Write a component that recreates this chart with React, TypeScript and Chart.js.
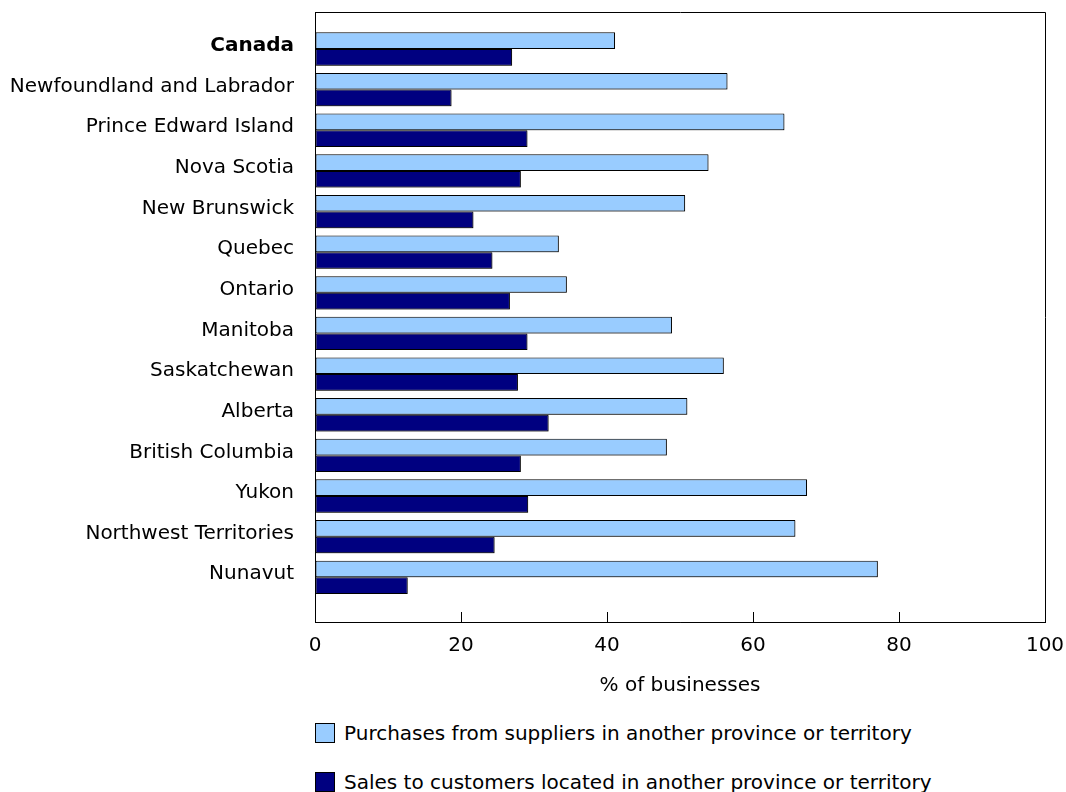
import React, { useEffect, useRef } from 'react';
import { Chart, registerables } from 'chart.js';

Chart.register(...registerables);

const categories = [
  'Canada',
  'Newfoundland and Labrador',
  'Prince Edward Island',
  'Nova Scotia',
  'New Brunswick',
  'Quebec',
  'Ontario',
  'Manitoba',
  'Saskatchewan',
  'Alberta',
  'British Columbia',
  'Yukon',
  'Northwest Territories',
  'Nunavut',
];

const purchases = [41.1, 56.5, 64.3, 53.9, 50.7, 33.4, 34.5, 48.9, 56.0, 51.0, 48.2, 67.4, 65.8, 77.1];
const sales = [27.0, 18.7, 29.1, 28.2, 21.7, 24.3, 26.7, 29.1, 27.8, 32.0, 28.2, 29.2, 24.6, 12.7];

const seriesLabels = [
  'Purchases from suppliers in another province or territory',
  'Sales to customers located in another province or territory',
];
const seriesColors = ['#99ccff', '#000080'];
const seriesValues = [purchases, sales];

const xMin = 0;
const xMax = 100;
const xStep = 20;
const xTitle = '% of businesses';

const FONT = '"DejaVu Sans", Verdana, sans-serif';

const framePlugin = {
  id: 'frame',
  beforeDatasetsDraw(chart: any) {
    const { ctx } = chart;
    ctx.save();
    ctx.shadowColor = 'rgba(0,0,0,0.35)';
    ctx.shadowOffsetX = 1;
    ctx.shadowOffsetY = 1;
    ctx.shadowBlur = 0;
  },
  afterDatasetsDraw(chart: any) {
    chart.ctx.restore();
  },
  afterDraw(chart: any) {
    const { ctx, chartArea } = chart;
    const l = Math.round(chartArea.left) + 0.5;
    const t = Math.round(chartArea.top) + 0.5;
    const r = Math.round(chartArea.right) + 0.5;
    const b = Math.round(chartArea.bottom) + 0.5;
    ctx.save();
    ctx.strokeStyle = '#000';
    ctx.lineWidth = 1;
    ctx.beginPath();
    ctx.moveTo(l, b);
    ctx.lineTo(l, t);
    ctx.lineTo(r, t);
    ctx.lineTo(r, b);
    ctx.closePath();
    ctx.stroke();
    ctx.restore();
  },
};

export default function App() {
  const canvasRef = useRef<HTMLCanvasElement | null>(null);

  useEffect(() => {
    if (!canvasRef.current) return;
    const chart = new Chart(canvasRef.current, {
      type: 'bar',
      data: {
        datasets: seriesValues.map((vals, si) => ({
          label: seriesLabels[si],
          data: vals.map((v, i) => ({ x: v, y: i })),
          backgroundColor: seriesColors[si],
          borderColor: '#000',
          borderWidth: 1,
          borderSkipped: false,
          barPercentage: 1,
          categoryPercentage: 0.82,
        })),
      },
      options: {
        indexAxis: 'y',
        responsive: false,
        animation: false,
        layout: { padding: { top: 12, right: 21, left: 0, bottom: 0 } },
        plugins: {
          legend: { display: false },
          tooltip: { enabled: false },
        },
        scales: {
          y: {
            type: 'linear',
            reverse: true,
            offset: false,
            bounds: 'data',
            min: -0.91,
            max: 14.1,
            afterBuildTicks: (s: any) => {
              s.ticks = categories.map((_, i) => ({ value: i }));
            },
            afterFit: (s: any) => {
              s.width = 315;
              s.paddingTop = 0;
              s.paddingBottom = 0;
            },
            grid: { display: false, drawTicks: false, offset: false },
            border: { display: true, color: '#000' },
            ticks: {
              padding: 21,
              labelOffset: -3,
              color: '#000',
              autoSkip: false,
              callback: (v: any) => categories[v] ?? '',
              font: (ctx: any) => ({
                family: FONT,
                size: 20,
                weight: ctx.index === 0 ? 'bold' : 'normal',
              }),
            },
          },
          x: {
            type: 'linear',
            min: xMin,
            max: xMax,
            afterFit: (s: any) => {
              s.height = 76;
              s.paddingLeft = 0;
              s.paddingRight = 0;
            },
            grid: {
              drawOnChartArea: false,
              drawTicks: true,
              tickLength: -10,
              color: '#000',
            },
            border: { display: true, color: '#000' },
            ticks: {
              stepSize: xStep,
              padding: 22,
              color: '#000',
              font: { family: FONT, size: 20 },
            },
            title: {
              display: true,
              text: xTitle,
              color: '#000',
              padding: 0,
              font: { family: FONT, size: 20 },
            },
          },
        },
      },
      plugins: [framePlugin],
    });
    return () => chart.destroy();
  }, []);

  return (
    <div style={{ position: 'absolute', left: 0, top: 0, width: 1066, height: 792, background: '#fff' }}>
      <canvas ref={canvasRef} width={1066} height={698} style={{ position: 'absolute', left: 0, top: 0 }} />
      {seriesLabels.map((lab, i) => (
        <div
          key={lab}
          style={{
            position: 'absolute',
            left: 315,
            top: i === 0 ? 723 : 772,
            height: 20,
            display: 'flex',
            alignItems: 'center',
            fontFamily: FONT,
            fontSize: 20,
            color: '#000',
            whiteSpace: 'nowrap',
          }}
        >
          <span
            style={{
              display: 'inline-block',
              width: 18,
              height: 18,
              border: '1px solid #000',
              background: seriesColors[i],
              marginRight: 9,
            }}
          />
          <span>{lab}</span>
        </div>
      ))}
    </div>
  );
}
